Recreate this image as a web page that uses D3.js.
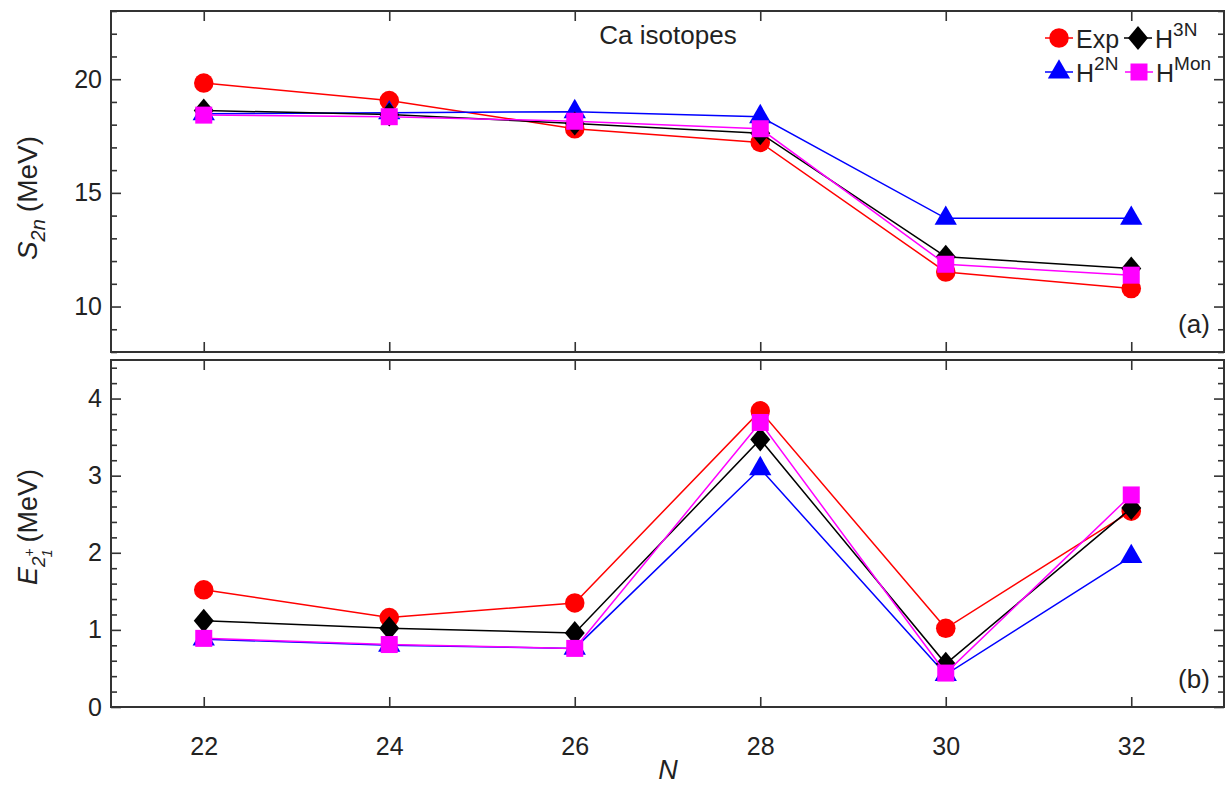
<!DOCTYPE html>
<html>
 <head>
  <meta charset="UTF-8">
  <title>Ca isotopes</title>
  <style>
    body { margin: 0; background: #fff; }
    text { font-family: "Liberation Sans", Arial, sans-serif; fill: #222; }
  </style>
 </head>
 <body>
<div id="viz-wrapper"></div>
 <script src="https://cdn.jsdelivr.net/npm/d3@7"></script>
 <script type="text/javascript">
    // neutron numbers
    var nValues = [22, 24, 26, 28, 30, 32];

    // two-neutron separation energies (MeV), panel (a)
    var s2nExp  = [19.83, 19.06, 17.82, 17.22, 11.52, 10.79];
    var s2nH3N  = [18.62, 18.45, 18.05, 17.62, 12.19, 11.67];
    var s2nH2N  = [18.48, 18.52, 18.57, 18.35, 13.88, 13.88];
    var s2nHMon = [18.42, 18.35, 18.15, 17.82, 11.86, 11.38];

    // first 2+ excitation energies (MeV), panel (b)
    var e2Exp  = [1.52, 1.16, 1.35, 3.84, 1.02, 2.54];
    var e2H3N  = [1.12, 1.02, 0.96, 3.47, 0.56, 2.58];
    var e2H2N  = [0.88, 0.80, 0.76, 3.09, 0.42, 1.95];
    var e2HMon = [0.89, 0.81, 0.76, 3.69, 0.44, 2.75];

    // axis ticks
    var xTicks = [22, 24, 26, 28, 30, 32];
    var yTicksA = [10, 15, 20];
    var yTicksB = [0, 1, 2, 3, 4];

    var width = 1229, height = 786;
    var left = 111, right = 1224;

    var svg = d3.select("#viz-wrapper")
                .append('svg')
                .attr('width', width)
                .attr('height', height);

    var x = d3.scaleLinear().domain([21, 33]).range([left, right]);

    // custom diamond, a bit wider than d3's
    var diamond = {
      draw: function(ctx, size) {
        var w = 10, h = 12;
        ctx.moveTo(0, -h); ctx.lineTo(w, 0); ctx.lineTo(0, h); ctx.lineTo(-w, 0); ctx.closePath();
      }
    };

    var styles = {
      exp:  {color: '#ff0000', sym: d3.symbol().type(d3.symbolCircle).size(300)},
      h2n:  {color: '#0000ff', sym: d3.symbol().type(d3.symbolTriangle).size(215)},
      h3n:  {color: '#000000', sym: d3.symbol().type(diamond)},
      hmon: {color: '#ff00ff', sym: d3.symbol().type(d3.symbolSquare).size(289)}
    };

    function panel(top, bottom, yDomain, majors, minorStep, series, tag) {
      var y = d3.scaleLinear().domain(yDomain).range([bottom, top]);
      var g = svg.append('g');

      var minors = d3.range(yDomain[0], yDomain[1] + 1e-9, minorStep)
                     .filter(function(v) { return majors.indexOf(Math.round(v * 100) / 100) < 0; });

      // ticks on all four sides, pointing inward
      g.append('g').attr('transform', 'translate(' + left + ',0)')
        .call(d3.axisLeft(y).tickValues(majors).tickSize(-10).tickPadding(9).tickFormat(d3.format('d')));
      g.append('g').attr('transform', 'translate(' + left + ',0)')
        .call(d3.axisLeft(y).tickValues(minors).tickSize(-6).tickFormat(''));
      g.append('g').attr('transform', 'translate(' + right + ',0)')
        .call(d3.axisRight(y).tickValues(majors).tickSize(-10).tickFormat(''));
      g.append('g').attr('transform', 'translate(' + right + ',0)')
        .call(d3.axisRight(y).tickValues(minors).tickSize(-6).tickFormat(''));
      g.append('g').attr('transform', 'translate(0,' + bottom + ')')
        .call(d3.axisBottom(x).tickValues(xTicks).tickSize(-10).tickPadding(30)
              .tickFormat(tag === 'b' ? d3.format('d') : ''));
      g.append('g').attr('transform', 'translate(0,' + top + ')')
        .call(d3.axisTop(x).tickValues(xTicks).tickSize(-10).tickFormat(''));

      g.selectAll('.domain').remove();
      g.selectAll('.tick line').attr('stroke', '#333').attr('stroke-width', 1.6);
      g.selectAll('.tick text').style('font-size', '25px').attr('fill', '#222');

      g.append('rect')
        .attr('x', left).attr('y', top)
        .attr('width', right - left).attr('height', bottom - top)
        .attr('fill', 'none').attr('stroke', '#333').attr('stroke-width', 2);

      var line = d3.line().x(function(d) { return x(d[0]); }).y(function(d) { return y(d[1]); });

      series.forEach(function(s) {
        var pts = nValues.map(function(n, i) { return [n, s.values[i]]; });
        var st = styles[s.key];
        g.append('path').datum(pts)
          .attr('d', line).attr('fill', 'none')
          .attr('stroke', st.color).attr('stroke-width', 1.5);
        g.selectAll('.pt-' + s.key).data(pts).enter()
          .append('path')
          .attr('transform', function(d) { return 'translate(' + x(d[0]) + ',' + y(d[1]) + ')'; })
          .attr('d', st.sym)
          .attr('fill', st.color);
      });

      g.append('text')
        .attr('x', 1194).attr('y', bottom - 19)
        .attr('text-anchor', 'middle')
        .style('font-size', '26px')
        .text('(' + tag + ')');

      return y;
    }

    panel(11, 352, [8, 23], yTicksA, 1, [
      {key: 'exp', values: s2nExp},
      {key: 'h2n', values: s2nH2N},
      {key: 'h3n', values: s2nH3N},
      {key: 'hmon', values: s2nHMon}
    ], 'a');

    panel(360, 707, [0, 4.5], yTicksB, 0.2, [
      {key: 'exp', values: e2Exp},
      {key: 'h2n', values: e2H2N},
      {key: 'h3n', values: e2H3N},
      {key: 'hmon', values: e2HMon}
    ], 'b');

    // title inside panel (a)
    svg.append('text')
      .attr('x', 668).attr('y', 44)
      .attr('text-anchor', 'middle')
      .style('font-size', '26px')
      .text('Ca isotopes');

    // x axis label
    svg.append('text')
      .attr('x', 668).attr('y', 779)
      .attr('text-anchor', 'middle')
      .style('font-size', '27px').style('font-style', 'italic')
      .text('N');

    // y axis label (a)
    var la = svg.append('text')
      .attr('transform', 'translate(37,198) rotate(-90)')
      .attr('text-anchor', 'middle')
      .style('font-size', '28px');
    la.append('tspan').style('font-style', 'italic').text('S');
    la.append('tspan').attr('dy', 8).style('font-style', 'italic').style('font-size', '20px').text('2n');
    la.append('tspan').attr('dy', -8).attr('dx', 7).text('(MeV)');

    // y axis label (b)
    var lb = svg.append('text')
      .attr('transform', 'translate(37,527) rotate(-90)')
      .attr('text-anchor', 'middle')
      .style('font-size', '27px');
    lb.append('tspan').style('font-style', 'italic').text('E');
    lb.append('tspan').attr('dy', 8).style('font-style', 'italic').style('font-size', '19px').text('2');
    lb.append('tspan').attr('dy', -11).style('font-size', '14px').text('+');
    lb.append('tspan').attr('dy', 18).attr('dx', -9).style('font-style', 'italic').style('font-size', '14px').text('1');
    lb.append('tspan').attr('dy', -15).attr('dx', 7).text('(MeV)');

    // legend
    var legendItems = [
      {key: 'exp',  x: 1059, y: 38, label: 'Exp', sup: ''},
      {key: 'h3n',  x: 1138, y: 38, label: 'H',   sup: '3N'},
      {key: 'h2n',  x: 1059, y: 72, label: 'H',   sup: '2N'},
      {key: 'hmon', x: 1139, y: 72, label: 'H',   sup: 'Mon'}
    ];
    var lg = svg.append('g');
    legendItems.forEach(function(it) {
      var st = styles[it.key];
      lg.append('line')
        .attr('x1', it.x - 14).attr('x2', it.x + 14)
        .attr('y1', it.y).attr('y2', it.y)
        .attr('stroke', st.color).attr('stroke-width', 1.5);
      lg.append('path')
        .attr('transform', 'translate(' + it.x + ',' + it.y + ')')
        .attr('d', st.sym).attr('fill', st.color);
      var t = lg.append('text')
        .attr('x', it.x + 17).attr('y', it.y + 10)
        .style('font-size', '25px');
      t.append('tspan').text(it.label);
      if (it.sup) {
        t.append('tspan').attr('dy', -12).style('font-size', '19px').text(it.sup);
      }
    });
 </script>
 </body>
</html>
